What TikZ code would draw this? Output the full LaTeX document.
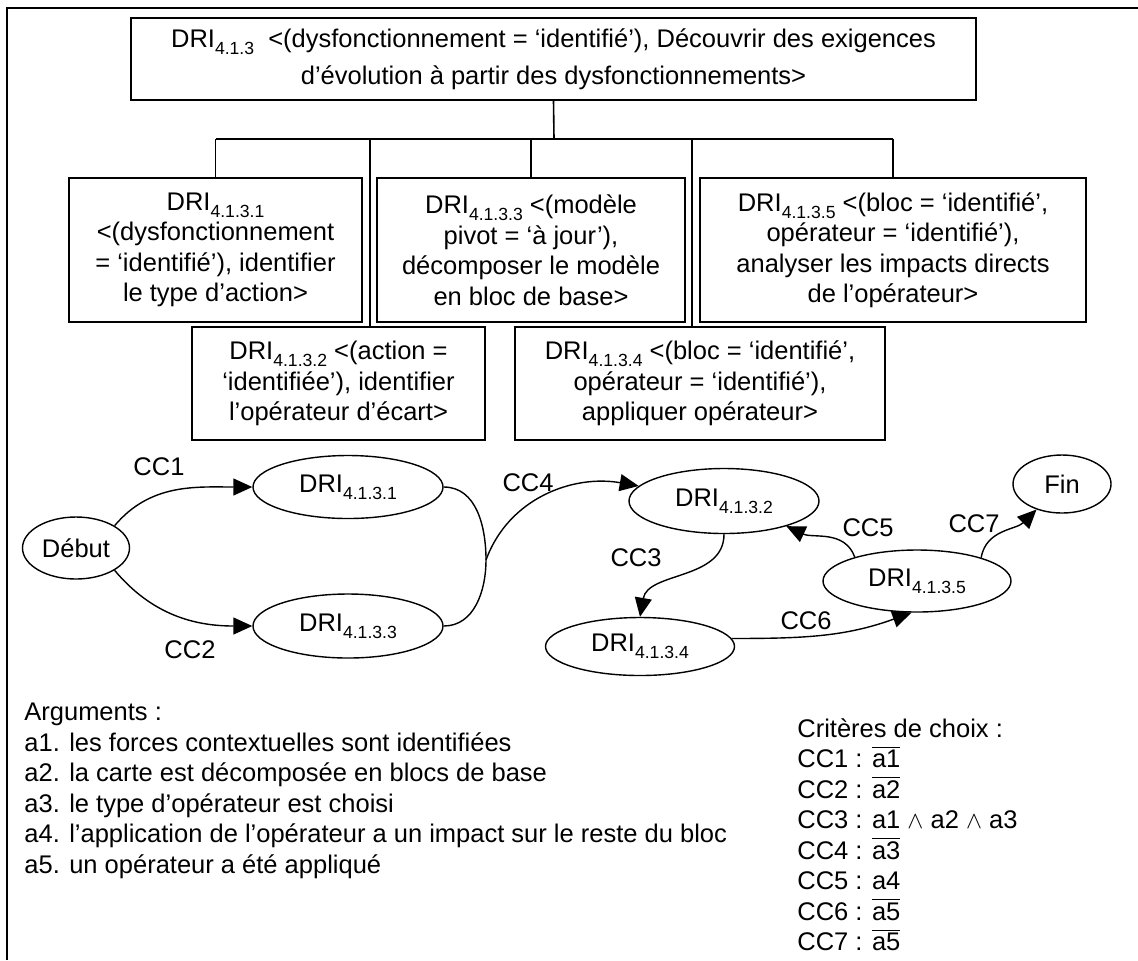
\documentclass[tikz,border=0pt]{standalone}
\usepackage{fontspec}
\setmainfont{Liberation Sans}
\usetikzlibrary{arrows.meta,shapes.geometric,positioning}

\newcommand{\dri}[1]{DRI\raisebox{-3.5pt}{\fontsize{8.8}{8.8}\selectfont #1}}
\newcommand{\nonarg}[1]{$\overline{\mbox{#1}}$}

\begin{document}
\begin{tikzpicture}[
  x=0.5pt, y=0.5pt,
  font=\fontsize{12.75}{15.25}\selectfont,
  box/.style={draw, line width=0.8pt, align=center, inner sep=0pt},
  oval/.style={draw, ellipse, line width=0.7pt, inner sep=0pt},
  arr/.style={-{Triangle[length=9.5pt,width=8.5pt]}, line width=0.7pt},
  tree/.style={line width=0.8pt},
  lbl/.style={inner sep=0pt}]
  \useasboundingbox (0,0) rectangle (1138,-960);
  \draw[line width=1pt] (7,-960) -- (7,-8) -- (1138,-8);

  % decomposition
  \node[box, minimum width=422.5pt, minimum height=41pt] (top) at (553.5,-59)
    {\dri{4.1.3}\ \ <(dysfonctionnement = ‘identifié’), Découvrir des exigences\\[3pt]
     d’évolution à partir des dysfonctionnements>};
  \node[box, minimum width=146.5pt, minimum height=72pt] (b1) at (215.5,-250)
    {\dri{4.1.3.1}\\<(dysfonctionnement\\= ‘identifié’), identifier\\le type d’action>};
  \node[box, minimum width=154pt, minimum height=72pt] (b3) at (531,-250)
    {\dri{4.1.3.3} <(modèle\\pivot = ‘à jour’),\\décomposer le modèle\\en bloc de base>};
  \node[box, minimum width=193pt, minimum height=72pt] (b5) at (893,-250)
    {\dri{4.1.3.5} <(bloc = ‘identifié’,\\opérateur = ‘identifié’),\\analyser les impacts directs\\de l’opérateur>};
  \node[box, minimum width=146.5pt, minimum height=56.5pt] (b2) at (338.5,-383.5)
    {\dri{4.1.3.2} <(action =\\‘identifiée’), identifier\\l’opérateur d’écart>};
  \node[box, minimum width=184.75pt, minimum height=56.5pt] (b4) at (700,-383.5)
    {\dri{4.1.3.4} <(bloc = ‘identifié’,\\opérateur = ‘identifié’),\\appliquer opérateur>};

  \coordinate (bar) at (554,-139);
  \coordinate (drop2) at (370,-139);
  \coordinate (drop4) at (692,-139);
  \draw[tree] (top.south) -- (bar);
  \draw[tree] (bar -| b1.north) -- (bar -| b5.north);
  \draw[tree] (bar -| b1.north) -- (b1.north);
  \draw[tree] (drop2) -- (drop2 |- b2.north);
  \draw[tree] (bar -| b3.north) -- (b3.north);
  \draw[tree] (drop4) -- (drop4 |- b4.north);
  \draw[tree] (bar -| b5.north) -- (b5.north);

  % map
  \node[oval, minimum width=53.5pt, minimum height=31pt] (deb) at (76,-548) {Début};
  \node[oval, minimum width=95pt, minimum height=31.5pt] (d1) at (348,-487) {\dri{4.1.3.1}};
  \node[oval, minimum width=95pt, minimum height=32pt] (d3) at (348,-626) {\dri{4.1.3.3}};
  \node[oval, minimum width=95pt, minimum height=32.5pt] (d2) at (724,-501) {\dri{4.1.3.2}};
  \node[oval, minimum width=94.5pt, minimum height=29pt] (d4) at (640,-646.5) {\dri{4.1.3.4}};
  \node[oval, minimum width=94pt, minimum height=31pt] (d5) at (917,-581) {\dri{4.1.3.5}};
  \node[oval, minimum width=49pt, minimum height=29pt] (fin) at (1062,-484) {Fin};
  \coordinate (j) at (486,-560);

  \draw[arr] (deb.30) to[out=50, in=180] (d1.west);
  \draw[arr] (deb.-30) to[out=-50, in=180] (d3.west);
  \draw[line width=0.7pt] (d1.east) to[out=0, in=90] (j) to[out=-90, in=0] (d3.east);
  \draw[arr] (j) to[out=70, in=170] (d2.170);
  \draw[arr] (d2.south) to[out=-90, in=80] (d4.north);
  \draw[arr] (d5.159) to[out=110, in=-25] (d2.-22);
  \draw[arr] (d4.5) to[out=0, in=-160] (d5.-100);
  \draw[arr] (d5.20) to[out=80, in=-135] (fin.225);

  \node[lbl] (cc1) at (159,-467) {CC1};
  \node[lbl] (cc2) at (190,-650) {CC2};
  \node[lbl] (cc3) at (636,-558) {CC3};
  \node[lbl] (cc4) at (528,-483) {CC4};
  \node[lbl] (cc5) at (868,-528) {CC5};
  \node[lbl] (cc6) at (806,-621) {CC6};
  \node[lbl] (cc7) at (974,-524) {CC7};

  % legend
  \node[lbl, anchor=north west, align=left] (args) at (24,-703)
    {Arguments :\\
     a1. les forces contextuelles sont identifiées\\
     a2. la carte est décomposée en blocs de base\\
     a3. le type d’opérateur est choisi\\
     a4. l’application de l’opérateur a un impact sur le reste du bloc\\
     a5. un opérateur a été appliqué};
  \node[lbl, anchor=north west, align=left] (crit) at (797,-718)
    {Critères de choix :\\
     CC1 : \nonarg{a1}\\
     CC2 : \nonarg{a2}\\
     CC3 : a1 $\wedge$ a2 $\wedge$ a3\\
     CC4 : \nonarg{a3}\\
     CC5 : a4\\
     CC6 : \nonarg{a5}\\
     CC7 : \nonarg{a5}};
\end{tikzpicture}
\end{document}
